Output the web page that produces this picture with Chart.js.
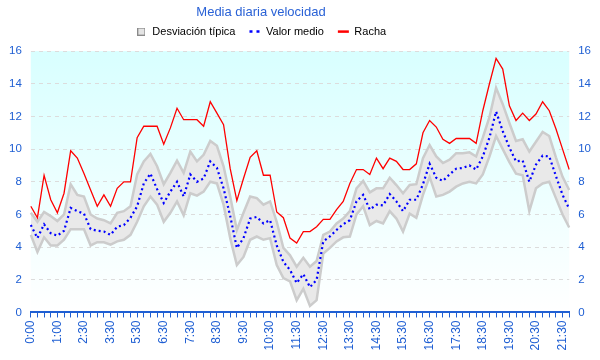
<!DOCTYPE html>
<html><head><meta charset="utf-8">
<script src="https://cdn.jsdelivr.net/npm/chart.js@4"></script>
<style>html,body{margin:0;padding:0;background:#fff}#w{width:600px;height:360px}</style>
</head><body><div id="w"><canvas id="c"></canvas></div>
<script>
const titleText = 'Media diaria velocidad';
const seriesNames = ['Desviación típica', 'Valor medio', 'Racha'];
const times = ['0:00','0:15','0:30','0:45','1:00','1:15','1:30','2:00','2:30','2:45','3:00','3:15','3:30','3:45','4:00','5:00','5:30','5:45','6:00','6:15',
'6:30','6:45','7:00','7:15','7:30','7:45','8:00','8:15','8:30','8:45','9:00','9:15','9:30','9:45','10:00','10:15','10:30','10:45','11:00','11:15',
'11:30','11:45','12:00','12:15','12:30','12:45','13:00','13:15','13:30','13:45','14:00','14:15','14:30','14:45','15:00','15:15','15:30','15:45','16:00','16:15',
'16:30','16:45','17:00','17:15','17:30','17:45','18:00','18:15','18:30','18:45','19:00','19:15','19:30','19:45','20:00','20:15','20:30','20:45','21:00','21:15',
'21:30','21:45'];
const racha = [6.5,5.8,8.4,6.9,6.1,7.3,9.9,9.45,8.5,7.5,6.5,7.2,6.5,7.6,8.0,8.0,10.7,11.4,11.4,11.4,
10.3,11.3,12.5,11.8,11.8,11.8,11.4,12.9,12.2,11.5,8.8,6.85,8.2,9.5,9.9,8.4,8.4,6.15,5.8,4.55,
4.25,4.95,4.95,5.25,5.7,5.7,6.3,6.8,7.9,8.75,8.75,8.45,9.45,8.8,9.45,9.25,8.75,8.75,9.1,11.0,
11.75,11.35,10.6,10.35,10.65,10.65,10.65,10.35,12.35,14.0,15.55,14.9,12.65,11.75,12.2,11.75,12.15,12.9,12.35,11.25,
10.0,8.75];
const media = [5.35,4.55,5.4,4.85,4.7,5.0,6.4,6.2,6.05,5.1,5.0,4.95,4.75,5.25,5.35,5.8,6.5,7.9,8.5,7.55,
6.7,7.4,8.0,7.1,8.45,8.0,8.2,9.25,8.85,7.6,5.9,3.95,4.55,5.75,5.85,5.45,5.65,4.1,3.1,2.6,
1.8,2.35,1.55,2.0,4.35,4.65,5.05,5.4,5.65,6.8,7.2,6.3,6.6,6.55,7.25,6.8,6.2,6.9,6.9,7.85,
9.1,8.25,8.05,8.45,8.8,8.85,9.0,8.75,9.55,10.7,12.3,11.1,10.1,9.25,9.3,8.0,9.05,9.6,9.55,8.35,
7.2,6.35];
const desvSup = [6.1,5.55,6.15,5.9,5.6,6.0,7.85,7.2,7.1,6.0,5.75,5.65,5.45,6.1,6.2,6.5,8.45,9.25,9.7,8.95,
7.85,8.55,9.3,8.55,9.85,9.25,9.65,10.5,10.2,8.95,7.1,5.05,6.1,7.1,7.0,6.6,6.8,5.55,3.95,3.5,
2.8,3.35,2.8,3.15,4.75,4.95,5.45,5.75,6.2,7.6,8.05,7.35,7.6,7.6,8.25,7.8,7.3,7.8,7.85,9.45,
10.25,9.55,9.15,9.35,9.75,9.75,9.8,9.55,10.7,11.95,13.75,12.75,11.6,10.5,10.6,9.85,10.45,11.05,10.8,9.5,
8.3,7.5];
const desvInf = [4.75,3.7,4.6,4.1,4.1,4.45,5.1,5.1,5.1,4.1,4.3,4.3,4.15,4.35,4.45,4.75,5.55,6.5,7.1,6.6,
5.55,6.1,6.8,5.95,7.3,7.15,7.4,8.0,7.9,6.6,4.55,2.9,3.4,4.45,4.65,4.45,4.55,2.9,2.1,1.9,
0.75,1.45,0.4,0.75,3.6,3.95,4.35,4.6,4.65,6.0,6.5,5.35,5.6,5.45,6.2,5.75,4.95,6.05,5.8,7.2,
8.3,7.1,7.2,7.4,7.7,7.9,8.0,7.9,8.45,9.55,10.8,10.0,9.2,8.5,8.4,6.2,7.6,7.9,8.0,7.0,
6.0,5.2];
const yTicks = [0,2,4,6,8,10,12,14,16];

const blue = '#1f5fd3';
const FAM = "'Liberation Sans', Arial, sans-serif";
const bgPlugin = {
  id: 'bg',
  beforeInit(chart) {
    const fit = chart.legend.fit;
    chart.legend.fit = function() { fit.call(this); this.height += 4; };
  },
  afterLayout(chart) {
    // title and legend are centred a little left of the canvas centre
    chart.titleBlock.right -= 78;
    chart.legend.right -= 78;
  },
  beforeDraw(chart) {
    const {ctx, chartArea: a} = chart;
    const g = ctx.createLinearGradient(0, a.top, 0, a.bottom);
    g.addColorStop(0, '#d8ffff');
    g.addColorStop(1, '#ffffff');
    ctx.save(); ctx.fillStyle = g; ctx.fillRect(a.left, a.top, a.right - a.left, a.bottom - a.top); ctx.restore();
  }
};
const sq = document.createElement('canvas');
sq.width = 8; sq.height = 8;
(function(){ const c = sq.getContext('2d'); c.fillStyle = '#e4e4e4'; c.fillRect(0.5,0.5,7,7); c.strokeStyle = '#8a8a8a'; c.lineWidth = 1; c.strokeRect(0.5,0.5,7,7); })();

const yScale = (pos) => ({
  position: pos, min: yTicks[0], max: yTicks[yTicks.length-1],
  afterBuildTicks: s => { s.ticks = yTicks.map(v => ({value: v})); },
  ticks: {color: blue, font: {family: FAM, size: 11.5}, padding: 9},
  grid: pos === 'left' ? {color: '#dcdcdc', drawTicks: false, lineWidth: 1} : {display: false, drawTicks: false},
  border: {display: false, dash: [4, 4]}
});
new Chart(document.getElementById('c'), {
  type: 'line',
  data: {
    labels: times,
    datasets: [
      {label: seriesNames[0], data: desvSup, borderColor: '#cccccc', borderWidth: 2.5, backgroundColor: '#e9e9e9', fill: '+1', pointRadius: 0, tension: 0, order: 3},
      {label: '_inf', data: desvInf, borderColor: '#cccccc', borderWidth: 2.5, backgroundColor: '#e9e9e9', fill: false, pointRadius: 0, tension: 0, order: 2},
      {label: seriesNames[1], data: media, borderColor: '#0000ff', borderWidth: 2.2, borderDash: [2, 3], fill: false, pointRadius: 0, tension: 0, order: 1},
      {label: seriesNames[2], data: racha, borderColor: '#ff0000', borderWidth: 1.3, fill: false, pointRadius: 0, tension: 0, order: 0}
    ]
  },
  options: {
    responsive: true, maintainAspectRatio: false, animation: false,
    layout: {padding: {left: 0, right: 0, top: 0, bottom: 6.5}},
    plugins: {
      filler: {drawTime: 'beforeDatasetsDraw'},
      title: {display: true, text: titleText, color: '#2a62d6', font: {family: FAM, size: 13, weight: 'normal'}, padding: {top: 5, bottom: -8.5}},
      legend: {
        display: true,
        labels: {
          color: '#111', font: {family: FAM, size: 11}, usePointStyle: true, boxHeight: 8, pointStyleWidth: 11, padding: 14,
          generateLabels(chart) {
            const ds = chart.data.datasets;
            return [
              {text: ds[0].label, fillStyle: '#e4e4e4', strokeStyle: '#888888', lineWidth: 1, pointStyle: sq, datasetIndex: 0, lineDash: []},
              {text: ds[2].label, fillStyle: '#0000ff', strokeStyle: '#0000ff', lineWidth: 2.5, pointStyle: 'line', datasetIndex: 2, lineDash: [3, 4]},
              {text: ds[3].label, fillStyle: '#ff0000', strokeStyle: '#ff0000', lineWidth: 2.5, pointStyle: 'line', datasetIndex: 3, lineDash: []}
            ];
          }
        }
      },
      tooltip: {enabled: false}
    },
    scales: {
      x: {
        ticks: {color: blue, font: {family: FAM, size: 12}, autoSkip: false, maxRotation: 90, minRotation: 90, padding: 3,
          callback: function(v, i) { return i % 4 === 0 ? this.getLabelForValue(v) : ''; }},
        grid: {drawOnChartArea: false, drawTicks: true, tickLength: 5, color: blue, lineWidth: 1},
        border: {display: true, color: blue, width: 2}
      },
      y: yScale('left'),
      y2: yScale('right')
    }
  },
  plugins: [bgPlugin]
});
</script>
</body></html>
